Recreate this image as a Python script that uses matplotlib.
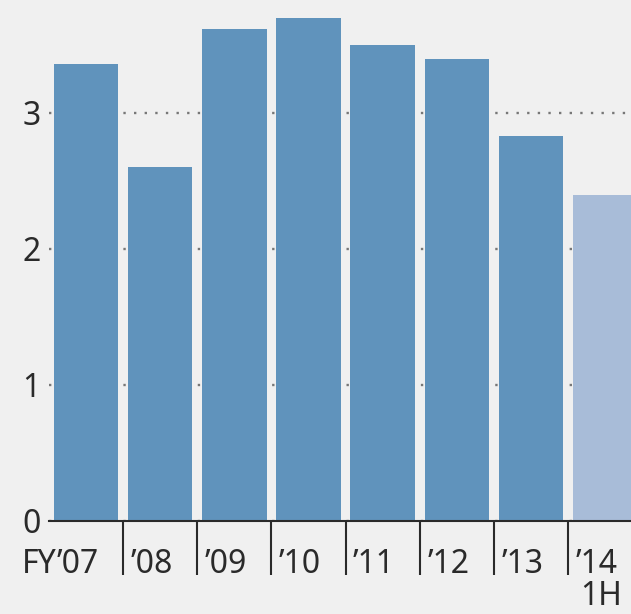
import matplotlib
matplotlib.use('Agg')
import matplotlib.pyplot as plt

# datos
years = ['’07', '’08', '’09', '’10', '’11', '’12', '’13', '’14']
values = [3.36, 2.60, 3.62, 3.70, 3.50, 3.40, 2.83, 2.40]
colors = ['#6093bc'] * 7 + ['#a8bcd8']
yticks = [0, 1, 2, 3]

plt.rcParams['font.family'] = ['Noto Sans', 'DejaVu Sans']
ink = '#2a2a2a'

fig = plt.figure(figsize=(6.31, 6.14), dpi=100, facecolor='#f0f0f0')
ax = fig.add_axes([0.0773, 0.1515, 0.9407, 0.8417])
ax.set_facecolor('#f0f0f0')

x = list(range(len(values)))
ax.bar(x, values, width=0.87, color=colors, zorder=2)

ax.set_xlim(-0.5, len(values) - 0.5)
ax.set_ylim(0, 3.8)

ax.set_yticks(yticks)
ax.tick_params(axis='y', length=0, pad=6, labelsize=23, labelcolor=ink)
ax.yaxis.grid(True, linestyle=(0, (1, 3.5)), color='#777777', linewidth=1.7)
ax.set_axisbelow(True)

# separadores entre categorias
ax.set_xticks([])
ax.set_xticks([i + 0.5 for i in x[:-1]], minor=True)
ax.tick_params(axis='x', which='minor', length=39, width=1.5, color=ink, direction='out')

for s in ['top', 'left', 'right']:
    ax.spines[s].set_visible(False)
ax.spines['bottom'].set_color(ink)
ax.spines['bottom'].set_linewidth(1.5)

tr = ax.get_xaxis_transform()
for i, lab in enumerate(years):
    ax.text(i - 0.4, -0.1, lab, transform=tr, ha='left', va='baseline',
            fontsize=23, color=ink)
ax.text(-0.4, -0.1, 'FY', transform=tr, ha='right', va='baseline',
        fontsize=23, color=ink)
ax.text(6.66, -0.163, '1H', transform=tr, ha='left', va='baseline',
        fontsize=23, color=ink)

plt.savefig('out.png', dpi=100, facecolor=fig.get_facecolor())
